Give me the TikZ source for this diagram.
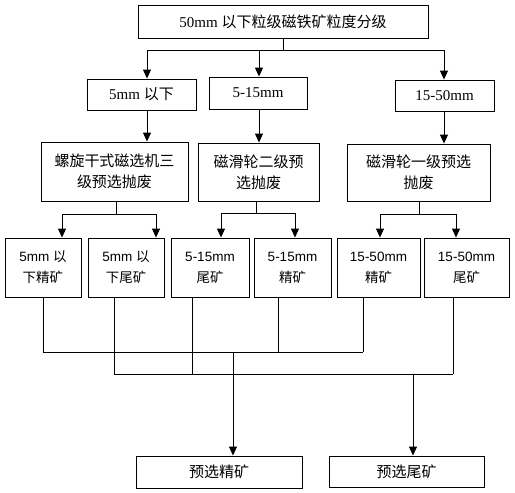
\documentclass[tikz,border=0pt]{standalone}
\usepackage{fontspec}
\setmainfont{Liberation Serif}
\newfontfamily\cjk{Noto Sans CJK SC}
\newfontfamily\lsans{Liberation Sans}
\usetikzlibrary{arrows.meta}
\newcommand{\zh}[1]{{\cjk #1}}
\tikzset{
  box/.style={draw, line width=0.9pt, inner sep=0pt, align=center, font=\fontsize{15}{21}\selectfont},
  sbox/.style={draw, line width=0.9pt, inner sep=0pt, align=center, font=\lsans\fontsize{13.5}{21}\selectfont},
  ln/.style={line width=0.9pt},
  arr/.style={line width=0.9pt, -{Triangle[length=9pt,width=8pt]}}
}
\begin{document}
\begin{tikzpicture}[x=1pt,y=-1pt]
\useasboundingbox[fill=white] (0,0) rectangle (515,493);
% level 1
\node[box, minimum width=290pt, minimum height=33pt] (top) at (283,21.5) {50mm \zh{以下粒级磁铁矿粒度分级}};
% level 2
\node[box, minimum width=109pt, minimum height=31pt] (L2a) at (141.5,94.5) {5mm \zh{以下}};
\node[box, minimum width=98pt, minimum height=32pt] (L2b) at (258,93) {5-15mm};
\node[box, minimum width=99pt, minimum height=31pt] (L2c) at (444.5,95.5) {15-50mm};
% level 3
\node[box, minimum width=147pt, minimum height=59pt] (L3a) at (114.5,171.5) {\zh{螺旋干式磁选机三}\\\zh{级预选抛废}};
\node[box, minimum width=121pt, minimum height=58pt] (L3b) at (258.5,172) {\zh{磁滑轮二级预}\\\zh{选抛废}};
\node[box, minimum width=143pt, minimum height=57pt] (L3c) at (418.5,172.5) {\zh{磁滑轮一级预选}\\\zh{抛废}};
% level 4
\node[sbox, minimum width=76pt, minimum height=59pt] (L4a) at (43,267.5) {5mm \zh{以}\\\zh{下精矿}};
\node[sbox, minimum width=76pt, minimum height=59pt] (L4b) at (126,267.5) {5mm \zh{以}\\\zh{下尾矿}};
\node[sbox, minimum width=78pt, minimum height=59pt] (L4c) at (210,267.5) {5-15mm\\\zh{尾矿}};
\node[sbox, minimum width=77pt, minimum height=59pt] (L4d) at (292.5,267.5) {5-15mm\\\zh{精矿}};
\node[sbox, minimum width=83pt, minimum height=59pt] (L4e) at (378.5,267.5) {15-50mm\\\zh{精矿}};
\node[sbox, minimum width=85pt, minimum height=59pt] (L4f) at (466.5,267.5) {15-50mm\\\zh{尾矿}};
% final
\node[box, minimum width=166pt, minimum height=32pt] (conc) at (219,472) {\zh{预选精矿}};
\node[box, minimum width=155pt, minimum height=31pt] (tail) at (406.5,471.5) {\zh{预选尾矿}};

% junction coordinates
\coordinate (j0) at (283,50);
\coordinate (a1) at (147,50);
\coordinate (a2) at (259,50);
\coordinate (a3) at (444,50);
\coordinate (k1) at (116,214);
\coordinate (k2) at (256,213);
\coordinate (k3) at (419,214);
\coordinate (b1) at (62,214);
\coordinate (b2) at (156,214);
\coordinate (b3) at (221,213);
\coordinate (b4) at (295,213);
\coordinate (b5) at (380,214);
\coordinate (b6) at (456,214);
\coordinate (c1) at (43,352);
\coordinate (c4) at (278,352);
\coordinate (c5) at (363,352);
\coordinate (cm) at (233,352);
\coordinate (t2) at (114,374);
\coordinate (t3) at (192,374);
\coordinate (t6) at (453,374);
\coordinate (tm) at (413,374);

% level 1 -> level 2
\draw[ln] (top.south -| j0) -- (j0);
\draw[ln] (a1) -- (a3);
\draw[arr] (a1) -- (a1 |- L2a.north);
\draw[arr] (a2) -- (a2 |- L2b.north);
\draw[arr] (a3) -- (a3 |- L2c.north);
% level 2 -> level 3
\draw[arr] (a1 |- L2a.south) -- (a1 |- L3a.north);
\draw[arr] (a2 |- L2b.south) -- (a2 |- L3b.north);
\draw[arr] (a3 |- L2c.south) -- (a3 |- L3c.north);
% level 3 -> level 4
\draw[ln] (k1 |- L3a.south) -- (k1);
\draw[ln] (k2 |- L3b.south) -- (k2);
\draw[ln] (k3 |- L3c.south) -- (k3);
\draw[ln] (b1) -- (b2);
\draw[ln] (b3) -- (b4);
\draw[ln] (b5) -- (b6);
\draw[arr] (b1) -- (b1 |- L4a.north);
\draw[arr] (b2) -- (b2 |- L4b.north);
\draw[arr] (b3) -- (b3 |- L4c.north);
\draw[arr] (b4) -- (b4 |- L4d.north);
\draw[arr] (b5) -- (b5 |- L4e.north);
\draw[arr] (b6) -- (b6 |- L4f.north);
% concentrates
\draw[ln] (L4a.south) -- (c1) -- (c5);
\draw[ln] (c4 |- L4d.south) -- (c4);
\draw[ln] (c5 |- L4e.south) -- (c5);
\draw[arr] (cm) -- (cm |- conc.north);
% tailings
\draw[ln] (t2 |- L4b.south) -- (t2) -- (t6);
\draw[ln] (t3 |- L4c.south) -- (t3);
\draw[ln] (t6 |- L4f.south) -- (t6);
\draw[arr] (tm) -- (tm |- tail.north);
\end{tikzpicture}
\end{document}
